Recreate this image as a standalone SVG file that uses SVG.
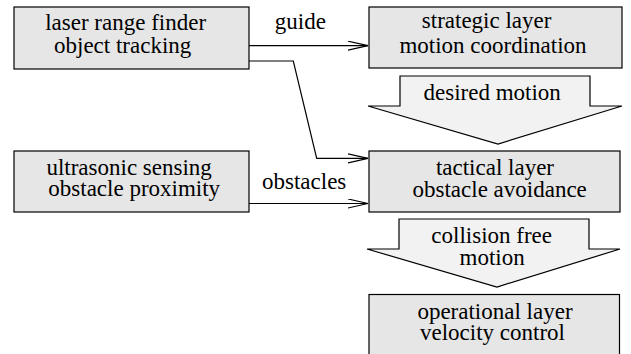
<svg xmlns="http://www.w3.org/2000/svg" width="631" height="354" viewBox="0 0 631 354">
<defs>
<marker id="ah" markerUnits="userSpaceOnUse" markerWidth="24" markerHeight="12" refX="20" refY="5" orient="auto" viewBox="0 0 24 12">
<path d="M0,0.5 L20,5 L0,9.5" fill="none" stroke="#000" stroke-width="1.2"/>
</marker>
</defs>
<rect width="631" height="354" fill="#fff"/>
<g id="connectors">
<g fill="none" stroke="#000" stroke-width="1.2">
<path d="M249,45.7 H368" marker-end="url(#ah)"/>
<path d="M249,61 H293.3 L316.7,158.3 H368" marker-end="url(#ah)"/>
<path d="M249,203.5 H368" marker-end="url(#ah)"/>
</g>
<text x="274.8" y="29.3" font-family="Liberation Serif" font-size="23" fill="#000">guide</text>
<text x="262" y="189.3" font-family="Liberation Serif" font-size="23" fill="#000">obstacles</text>
</g>
<g id="laser">
<rect x="14" y="7" width="235" height="62" fill="#e6e6e6" stroke="#000" stroke-width="1.2"/>
<text x="45.2" y="30" font-family="Liberation Serif" font-size="23" fill="#000">laser range finder</text>
<text x="54" y="52.5" font-family="Liberation Serif" font-size="23" fill="#000">object tracking</text>
</g>
<g id="ultrasonic">
<rect x="14" y="151" width="235" height="61" fill="#e6e6e6" stroke="#000" stroke-width="1.2"/>
<text x="46.4" y="175" font-family="Liberation Serif" font-size="23" fill="#000">ultrasonic sensing</text>
<text x="48.3" y="196" font-family="Liberation Serif" font-size="23" fill="#000">obstacle proximity</text>
</g>
<g id="strategic">
<rect x="369" y="7" width="253" height="61" fill="#e6e6e6" stroke="#000" stroke-width="1.2"/>
<text x="421.8" y="28" font-family="Liberation Serif" font-size="23" fill="#000">strategic layer</text>
<text x="399.4" y="53" font-family="Liberation Serif" font-size="23" fill="#000">motion coordination</text>
</g>
<g id="desired">
<polygon points="400,76 590,76 590,106 622,106 498,144 368,106 400,106" fill="#f2f2f2" stroke="#000" stroke-width="1.2"/>
<text x="423.5" y="100" font-family="Liberation Serif" font-size="23" fill="#000">desired motion</text>
</g>
<g id="tactical">
<rect x="369" y="151" width="251" height="61" fill="#e6e6e6" stroke="#000" stroke-width="1.2"/>
<text x="435.9" y="175" font-family="Liberation Serif" font-size="23" fill="#000">tactical layer</text>
<text x="412.5" y="197" font-family="Liberation Serif" font-size="23" fill="#000">obstacle avoidance</text>
</g>
<g id="collision">
<polygon points="399,219 589,219 589,249 620,249 497,287 367,249 399,249" fill="#f2f2f2" stroke="#000" stroke-width="1.2"/>
<text x="431.3" y="243" font-family="Liberation Serif" font-size="23" fill="#000">collision free</text>
<text x="459.6" y="265" font-family="Liberation Serif" font-size="23" fill="#000">motion</text>
</g>
<g id="operational">
<rect x="369" y="294.5" width="250.5" height="70" fill="#e6e6e6" stroke="#000" stroke-width="1.2"/>
<text x="417.4" y="318.5" font-family="Liberation Serif" font-size="23" fill="#000">operational layer</text>
<text x="420" y="340" font-family="Liberation Serif" font-size="23" fill="#000">velocity control</text>
</g>
</svg>
